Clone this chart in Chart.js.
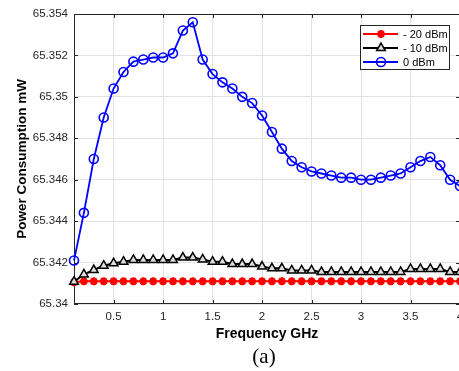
<!DOCTYPE html>
<html><head><meta charset="utf-8">
<style>html,body{margin:0;padding:0;overflow:hidden;background:#fff}canvas{display:block}</style>
<script src="https://cdn.jsdelivr.net/npm/chart.js@4"></script>
</head><body>
<canvas id="c" width="464" height="371"></canvas>
<script>
const freqGHz = [0.1,0.2,0.3,0.4,0.5,0.6,0.7,0.8,0.9,1.0,1.1,1.2,1.3,1.4,1.5,1.6,1.7,1.8,1.9,2.0,
                 2.1,2.2,2.3,2.4,2.5,2.6,2.7,2.8,2.9,3.0,3.1,3.2,3.3,3.4,3.5,3.6,3.7,3.8,3.9,4.0];
const powerMinus20 = [65.34105,65.3411,65.3411,65.3411,65.3411,65.3411,65.3411,65.3411,65.3411,65.3411,
                      65.3411,65.3411,65.3411,65.3411,65.3411,65.3411,65.3411,65.3411,65.3411,65.3411,
                      65.3411,65.3411,65.3411,65.3411,65.3411,65.3411,65.3411,65.3411,65.3411,65.3411,
                      65.3411,65.3411,65.3411,65.3411,65.3411,65.3411,65.3411,65.3411,65.3411,65.3411];
const powerMinus10 = [65.34108,65.34143,65.34164,65.34185,65.34197,65.34204,65.34213,65.34213,65.34213,65.34213,
                      65.34213,65.34224,65.34224,65.34215,65.34204,65.34204,65.34193,65.34193,65.34193,65.34181,
                      65.34172,65.34172,65.34162,65.34162,65.34162,65.34155,65.34155,65.34155,65.34155,65.34155,
                      65.34155,65.34155,65.34155,65.34155,65.34169,65.34169,65.34169,65.34169,65.34155,65.34155];
const power0 = [65.3421,65.3444,65.3470,65.3490,65.3504,65.3512,65.3517,65.3518,65.3519,65.3519,
                65.3521,65.3532,65.3536,65.3518,65.3511,65.3507,65.3504,65.3500,65.3497,65.3491,
                65.3483,65.3475,65.3469,65.3466,65.3464,65.3463,65.3462,65.3461,65.3461,65.3460,
                65.3460,65.3461,65.3462,65.3463,65.3466,65.3469,65.3471,65.3467,65.3460,65.3457];
const seriesLabels = ['- 20 dBm', '- 10 dBm', '0 dBm'];
const xTicks = [0.5,1,1.5,2,2.5,3,3.5,4];
const yTicks = [65.34,65.342,65.344,65.346,65.348,65.35,65.352,65.354];
const xTitle = 'Frequency GHz';
const yTitle = 'Power Consumption mW';
const caption = '(a)';

const toPts = arr => freqGHz.map((f,i)=>({x:f,y:arr[i]}));
const fmt = v => String(Number(v.toFixed(3)));
const AXC = '#262626';
const SANS = '"Liberation Sans", Arial, Helvetica, sans-serif';

const framePlugin = {
  id:'frame',
  beforeDatasetsDraw(chart){
    const {ctx, chartArea:a, scales:{x,y}} = chart;
    ctx.save();
    ctx.strokeStyle = AXC; ctx.lineWidth = 1;
    ctx.strokeRect(Math.round(a.left)+0.5, Math.round(a.top)+0.5,
                   Math.round(a.right-a.left), Math.round(a.bottom-a.top)-1);
    ctx.beginPath();
    const L = 4;
    xTicks.forEach(v=>{ const p = Math.round(x.getPixelForValue(v))+0.5;
      ctx.moveTo(p,a.bottom); ctx.lineTo(p,a.bottom-L);
      ctx.moveTo(p,a.top); ctx.lineTo(p,a.top+L); });
    yTicks.forEach(v=>{ const p = Math.round(y.getPixelForValue(v))+0.5;
      ctx.moveTo(a.left,p); ctx.lineTo(a.left+L,p);
      ctx.moveTo(a.right,p); ctx.lineTo(a.right-L,p); });
    ctx.stroke();
    ctx.restore();
  },
  afterDraw(chart){
    const {ctx} = chart;
    ctx.save();
    // legend
    const bx=360.5, by=25.5, bw=89, bh=44;
    ctx.fillStyle='#fff'; ctx.fillRect(bx,by,bw,bh);
    ctx.strokeStyle=AXC; ctx.lineWidth=1; ctx.strokeRect(bx,by,bw,bh);
    const rows=[34,48,62];
    chart.data.datasets.forEach((ds,i)=>{
      const yy=rows[i];
      ctx.strokeStyle=ds.borderColor; ctx.lineWidth=ds.borderWidth;
      ctx.beginPath(); ctx.moveTo(363,yy); ctx.lineTo(398,yy); ctx.stroke();
      ctx.fillStyle=ds.pointBackgroundColor; ctx.strokeStyle=ds.pointBorderColor;
      ctx.lineWidth=ds.pointBorderWidth;
      Chart.helpers.drawPoint(ctx,{pointStyle:ds.pointStyle,radius:ds.pointRadius,borderWidth:ds.pointBorderWidth,rotation:0},381,yy);
      ctx.fillStyle='#000'; ctx.font='11px '+SANS; ctx.textBaseline='middle'; ctx.textAlign='left';
      ctx.fillText(ds.label,403,yy+0.5);
    });
    // caption
    ctx.fillStyle='#000'; ctx.font='21px "Liberation Serif", "Times New Roman", serif';
    ctx.textAlign='center'; ctx.textBaseline='middle';
    ctx.fillText(caption,264,357);
    ctx.restore();
  }
};

new Chart(document.getElementById('c'), {
  type:'line',
  data:{ datasets:[
    {label:seriesLabels[0], data:toPts(powerMinus20), borderColor:'#ff0000', borderWidth:2,
     pointStyle:'star', pointRadius:4, pointBorderWidth:2.4, pointBorderColor:'#ff0000', pointBackgroundColor:'#ff0000', order:3, clip:false},
    {label:seriesLabels[1], data:toPts(powerMinus10), borderColor:'#000000', borderWidth:2,
     pointStyle:'triangle', pointRadius:5, pointBorderWidth:1.5, pointBorderColor:'#000000', pointBackgroundColor:'#dedede', order:2, clip:false},
    {label:seriesLabels[2], data:toPts(power0), borderColor:'#0000ff', borderWidth:1.8,
     pointStyle:'circle', pointRadius:4.5, pointBorderWidth:1.6, pointBorderColor:'#0000ff', pointBackgroundColor:'rgba(0,0,0,0)', order:1, clip:false}
  ]},
  options:{
    responsive:false, animation:false, devicePixelRatio:1,
    layout:{autoPadding:false, padding:{left:0,right:4,top:14,bottom:21}},
    plugins:{legend:{display:false}, tooltip:{enabled:false}},
    elements:{line:{tension:0}},
    scales:{
      x:{type:'linear', min:0.1, max:4,
         afterBuildTicks:s=>{s.ticks=xTicks.map(v=>({value:v}));},
         afterFit:s=>{s.height=46; s.paddingRight=0; s.paddingLeft=0;},
         grid:{color:'#e2e2e2', drawTicks:false}, border:{display:false},
         ticks:{padding:6, color:AXC, font:{family:SANS,size:11.5}, callback:v=>fmt(v), maxRotation:0, autoSkip:false},
         title:{display:true, text:xTitle, color:'#000', font:{family:SANS,size:14,weight:'bold'}, padding:{top:0,bottom:7}}},
      y:{type:'linear', min:65.34, max:65.354,
         afterBuildTicks:s=>{s.ticks=yTicks.map(v=>({value:v}));},
         afterFit:s=>{s.width=74; s.paddingTop=0; s.paddingBottom=0;},
         grid:{color:'#e2e2e2', drawTicks:false}, border:{display:false},
         ticks:{padding:6, color:AXC, font:{family:SANS,size:11.5}, callback:v=>fmt(v), autoSkip:false},
         title:{display:true, text:yTitle, color:'#000', font:{family:SANS,size:13.5,weight:'bold'}, padding:{top:14,bottom:0}}}
    }
  },
  plugins:[framePlugin]
});
</script>
</body></html>
